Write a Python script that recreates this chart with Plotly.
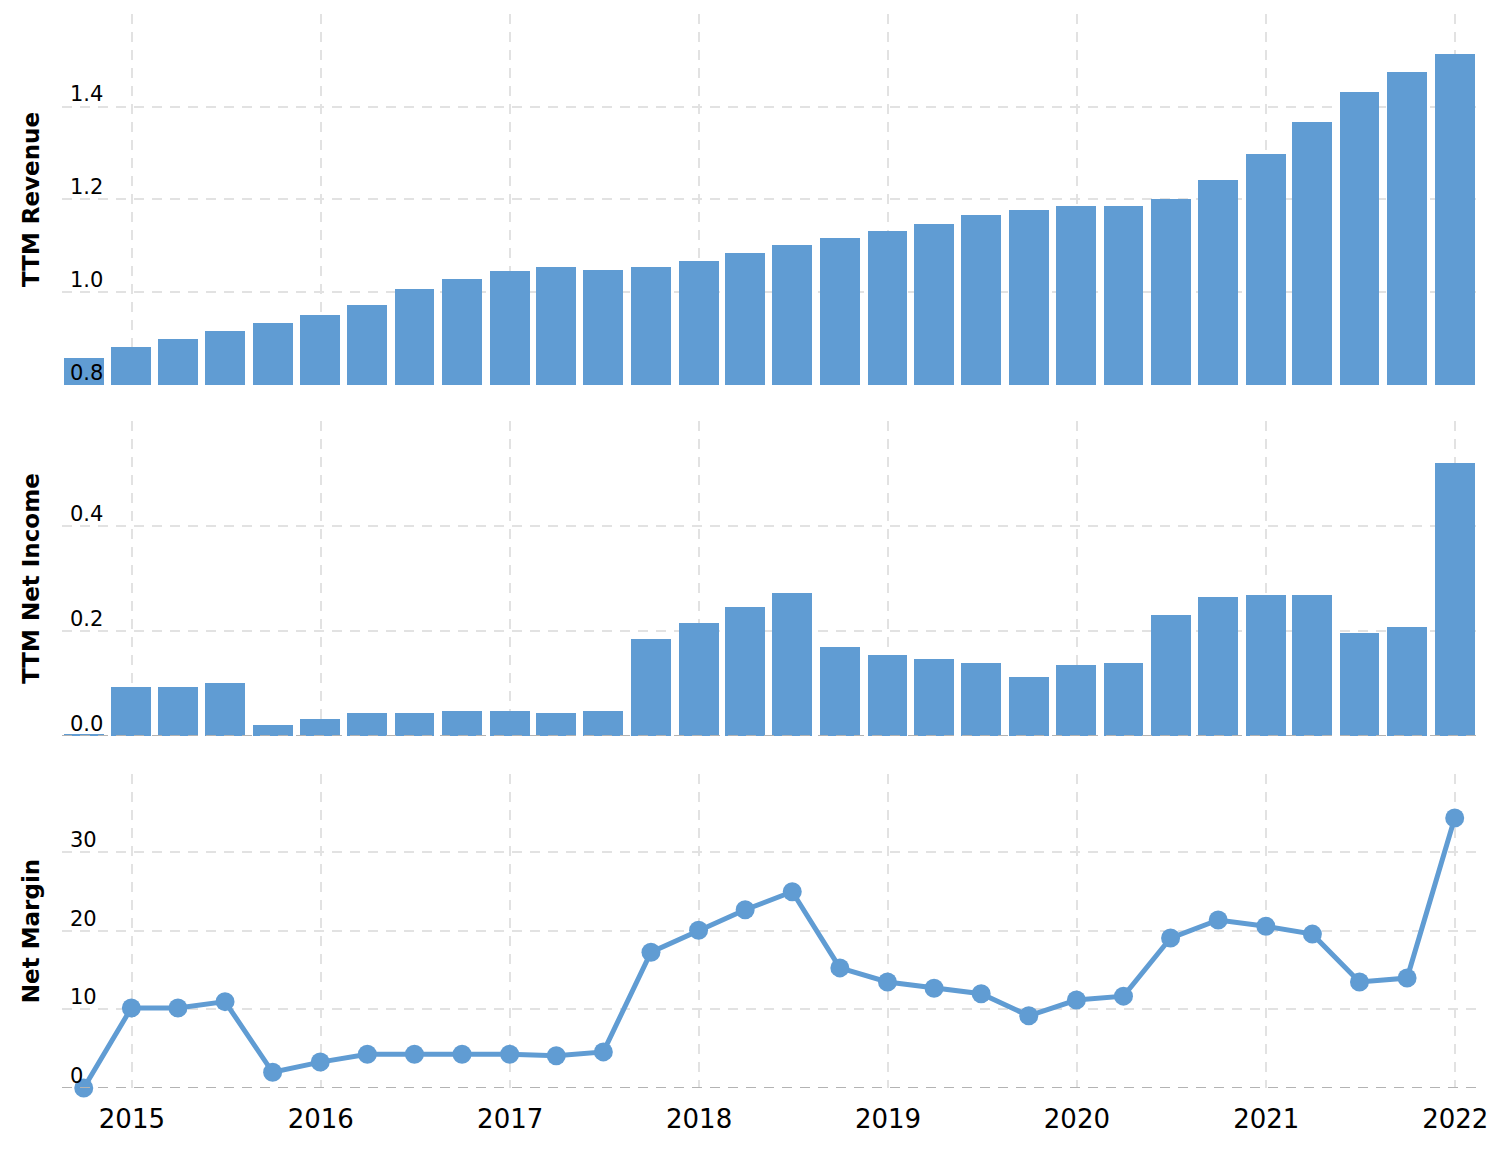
import plotly.graph_objects as go
from plotly.subplots import make_subplots

dates = [
    "2014-09-30", "2014-12-31", "2015-03-31", "2015-06-30", "2015-09-30", "2015-12-31",
    "2016-03-31", "2016-06-30", "2016-09-30", "2016-12-31", "2017-03-31", "2017-06-30",
    "2017-09-30", "2017-12-31", "2018-03-31", "2018-06-30", "2018-09-30", "2018-12-31",
    "2019-03-31", "2019-06-30", "2019-09-30", "2019-12-31", "2020-03-31", "2020-06-30",
    "2020-09-30", "2020-12-31", "2021-03-31", "2021-06-30", "2021-09-30", "2021-12-31",
]
revenue = [
    0.858, 0.882, 0.899, 0.916, 0.933, 0.951, 0.972, 1.006, 1.028, 1.045,
    1.054, 1.049, 1.054, 1.067, 1.084, 1.101, 1.118, 1.131, 1.148, 1.166,
    1.178, 1.187, 1.187, 1.200, 1.243, 1.299, 1.368, 1.432, 1.475, 1.514,
]
net_income = [
    0.002, 0.093, 0.093, 0.101, 0.021, 0.032, 0.044, 0.044, 0.048, 0.048,
    0.044, 0.048, 0.185, 0.215, 0.246, 0.272, 0.170, 0.154, 0.147, 0.139,
    0.112, 0.135, 0.139, 0.230, 0.265, 0.269, 0.269, 0.196, 0.208, 0.520,
]
net_margin = [
    0.0, 10.2, 10.2, 11.0, 2.0, 3.3, 4.3, 4.3, 4.3, 4.3,
    4.1, 4.6, 17.3, 20.1, 22.7, 25.0, 15.3, 13.5, 12.7, 12.0,
    9.2, 11.2, 11.7, 19.1, 21.4, 20.6, 19.6, 13.5, 14.0, 34.4,
]

rev_ticks = [0.8, 1.0, 1.2, 1.4, 1.6]
rev_text = ["0.8", "1.0", "1.2", "1.4", ""]
ni_ticks = [0.0, 0.2, 0.4, 0.6]
ni_text = ["0.0", "0.2", "0.4", ""]
nm_ticks = [0, 10, 20, 30, 40]
nm_text = ["0", "10", "20", "30", ""]

BLUE = "rgb(96,156,211)"
GRID = "#e2e2e2"
BASE = "#b3b3b3"
DAY_MS = 86400000

fig = make_subplots(rows=3, cols=1, shared_xaxes=True, vertical_spacing=0.03)

fig.add_trace(go.Bar(x=dates, y=revenue, marker=dict(color=BLUE, line=dict(width=0)),
                     width=77 * DAY_MS), row=1, col=1)
fig.add_trace(go.Bar(x=dates, y=net_income, marker=dict(color=BLUE, line=dict(width=0)),
                     width=77 * DAY_MS), row=2, col=1)
fig.add_trace(go.Scatter(x=dates, y=net_margin, mode="lines+markers",
                         line=dict(color=BLUE, width=5),
                         marker=dict(color=BLUE, size=19),
                         cliponaxis=False), row=3, col=1)

xr = ["2014-08-19", "2022-02-14"]
for i, dom in zip([1, 2, 3], [[0.6546, 1.0], [0.3277, 0.6210], [0.0, 0.2924]]):
    fig.update_xaxes(row=i, col=1, type="date", range=xr, dtick="M12", tick0="2015-01-01",
                     tickformat="%Y", showgrid=True, gridcolor=GRID, gridwidth=2,
                     griddash="10px,8px", zeroline=False, showline=False,
                     showticklabels=(i == 3), ticks="outside" if i == 3 else "",
                     ticklen=8, tickcolor="rgba(0,0,0,0)",
                     tickfont=dict(family="DejaVu Sans", size=26, color="#000"))
    fig.update_yaxes(row=i, col=1, domain=dom)

common_y = dict(showgrid=True, gridcolor=GRID, gridwidth=2, griddash="10px,8px",
                zeroline=False, showline=False, ticks="",
                ticklabelposition="inside top",
                ticklabelstandoff=5, ticklabelshift=2,
                tickfont=dict(family="DejaVu Sans", size=21, color="#000"),
                title_font=dict(family="DejaVu Sans", size=23, color="#000"),
                title_standoff=23)
fig.update_yaxes(row=1, col=1, range=[0.8, 1.6], tickvals=rev_ticks, ticktext=rev_text,
                 title_text="<b>TTM Revenue</b>", **common_y)
fig.update_yaxes(row=2, col=1, range=[0.0, 0.6], tickvals=ni_ticks, ticktext=ni_text,
                 title_text="<b>TTM Net Income</b>", **common_y)
fig.update_yaxes(row=3, col=1, range=[0, 40], tickvals=nm_ticks, ticktext=nm_text,
                 title_text="<b>Net Margin</b>", **common_y)

fig.add_shape(type="line", xref="x2 domain", yref="y2", x0=0, x1=1, y0=0, y1=0,
              line=dict(color=BASE, width=2, dash="10px,8px"), layer="above")
fig.add_shape(type="line", xref="x3 domain", yref="y3", x0=0, x1=1, y0=0, y1=0,
              line=dict(color=BASE, width=2, dash="10px,8px"), layer="above")

fig.update_layout(
    width=1500, height=1160,
    margin=dict(l=62, r=22, t=14, b=72),
    paper_bgcolor="white", plot_bgcolor="white",
    showlegend=False, bargap=0,
    font=dict(family="DejaVu Sans", color="#000"),
)

fig.write_html("out.html")
